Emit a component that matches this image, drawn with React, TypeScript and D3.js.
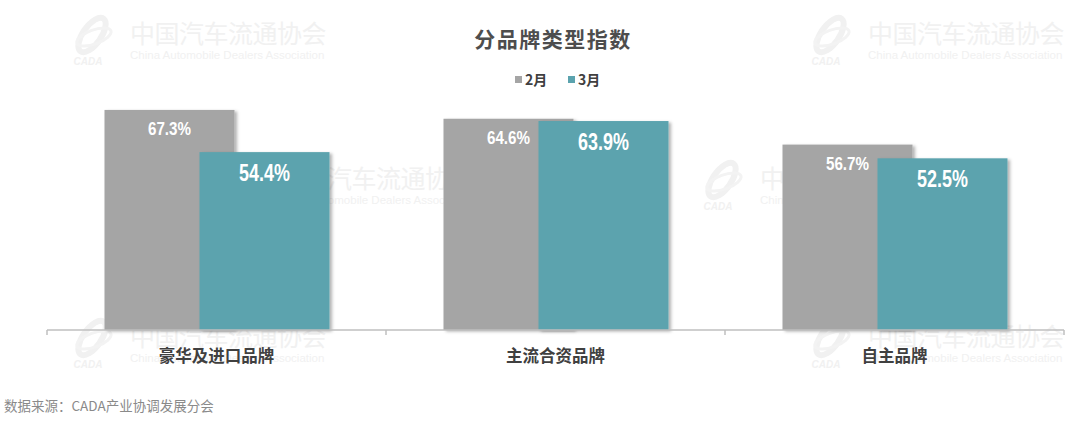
import React from "react";
import * as d3 from "d3";

const categories = ["豪华及进口品牌", "主流合资品牌", "自主品牌"];
const seriesNames = ["2月", "3月"];
const febValues = [67.3, 64.6, 56.7];
const marValues = [54.4, 63.9, 52.5];
const colors = ["#a5a5a5", "#5ba3ae"];
const title = "分品牌类型指数";
const sourceText = "数据来源：CADA产业协调发展分会";

const W = 1072;
const H = 421;

const watermarks = [
  { x: 70, y: 15 },
  { x: 808, y: 15 },
  { x: 218, y: 160 },
  { x: 700, y: 160 },
  { x: 70, y: 318 },
  { x: 808, y: 318 },
];

function Watermark({ x, y }: { x: number; y: number }) {
  return (
    <g transform={`translate(${x},${y})`}>
      <ellipse cx={22} cy={20} rx={9} ry={20} transform="rotate(35 22 20)" fill="none" stroke="#f1f1f1" strokeWidth={6} />
      <ellipse cx={24} cy={22} rx={18} ry={7} transform="rotate(-20 24 22)" fill="none" stroke="#f3f3f3" strokeWidth={3} />
      <text x={18} y={50} fontFamily="Liberation Sans, Arial" fontStyle="italic" fontWeight="bold" fontSize={10} fill="#f1f1f1" textAnchor="middle">CADA</text>
      <text x={60} y={28} fontFamily="Noto Sans CJK SC" fontSize={25} fill="#f1f1f1" letterSpacing={-0.5}>中国汽车流通协会</text>
      <text x={60} y={44} fontFamily="Liberation Sans, Arial" fontSize={11.5} fill="#f1f1f1">China Automobile Dealers Association</text>
    </g>
  );
}

export default function App() {
  const x0 = d3.scaleBand<string>().domain(categories).range([47, 1064]).padding(0);
  const offset = d3.scalePoint<string>().domain(seriesNames).range([-47, 48]);
  const barW = 130;
  const y = d3.scaleLinear().domain([0, 100]).range([330, 3]);
  const seriesData = [febValues, marValues];
  const labelSize = [19, 23];
  const labelScale = [0.8, 0.78];
  const labelDy = [25, 29];

  const ticks = [...categories.map((c) => x0(c)!), 1064];

  return (
    <svg width={W} height={H} style={{ position: "absolute", left: 0, top: 0, background: "#fff" }}>
      <defs>
        <filter id="shadow" x="-10%" y="-10%" width="130%" height="130%">
          <feDropShadow dx={2.5} dy={1.5} stdDeviation={1.5} floodColor="#000" floodOpacity={0.3} />
        </filter>
      </defs>
      <rect x={0} y={0} width={W} height={H} fill="#fff" />
      {watermarks.map((w, i) => (
        <Watermark key={i} x={w.x} y={w.y} />
      ))}
      <text x={553} y={47} textAnchor="middle" fontFamily="Noto Sans CJK SC" fontWeight="bold" fontSize={21} letterSpacing={1.5} fill="#4d4d4d">
        {title}
      </text>
      {seriesNames.map((s, i) => {
        const lx = 515 + i * 53;
        return (
          <g key={s}>
            <rect x={lx} y={76} width={7} height={7} fill={colors[i]} />
            <text x={lx + 10} y={85} fontFamily="Noto Sans CJK SC" fontWeight="bold" fontSize={14} fill="#404040">
              {s}
            </text>
          </g>
        );
      })}
      {categories.map((c, ci) => {
        const cx = x0(c)! + x0.bandwidth() / 2;
        return (
          <g key={c}>
            {seriesNames.map((s, si) => {
              const v = seriesData[si][ci];
              const bx = cx + offset(s)! - barW / 2;
              return <rect key={s} x={bx} y={y(v)} width={barW} height={y(0) - y(v)} fill={colors[si]} filter="url(#shadow)" />;
            })}
          </g>
        );
      })}
      {categories.map((c, ci) => {
        const cx = x0(c)! + x0.bandwidth() / 2;
        return (
          <g key={c + "-labels"}>
            {seriesNames.map((s, si) => {
              const v = seriesData[si][ci];
              const bx = cx + offset(s)!;
              return (
                <text
                  key={s}
                  transform={`translate(${bx},${y(v) + labelDy[si]}) scale(${labelScale[si]},1)`}
                  textAnchor="middle"
                  fontFamily="Liberation Sans, Arial, sans-serif"
                  fontWeight="bold"
                  fontSize={labelSize[si]}
                  fill="#fff"
                >
                  {v.toFixed(1) + "%"}
                </text>
              );
            })}
          </g>
        );
      })}
      <line x1={47} x2={1064} y1={330} y2={330} stroke="#bfbfbf" strokeWidth={1.5} />
      {ticks.map((t, i) => (
        <line key={i} x1={t} x2={t} y1={330} y2={335} stroke="#bfbfbf" strokeWidth={1.5} />
      ))}
      {categories.map((c) => (
        <text
          key={c + "-axis"}
          x={x0(c)! + x0.bandwidth() / 2}
          y={362}
          textAnchor="middle"
          fontFamily="Noto Sans CJK SC"
          fontWeight="bold"
          fontSize={16.5}
          fill="#404040"
        >
          {c}
        </text>
      ))}
      <text x={4} y={411} fontFamily="Noto Sans CJK SC" fontSize={13.5} fill="#8a8a8a">
        {sourceText}
      </text>
    </svg>
  );
}
